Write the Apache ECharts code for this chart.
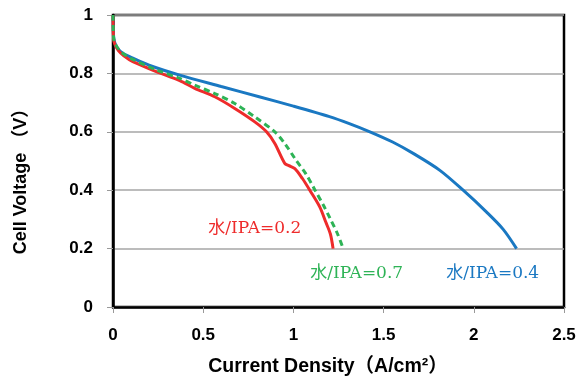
<!DOCTYPE html>
<html><head><meta charset="utf-8">
<script src="https://cdn.jsdelivr.net/npm/echarts@6/dist/echarts.min.js"></script>
<style>html,body{margin:0;padding:0;background:#fff}#c{width:579px;height:381px}</style>
</head><body><div id="c"></div>
<script>
// Data
var xTicks = [0, 0.5, 1, 1.5, 2, 2.5];
var yTicks = [0, 0.2, 0.4, 0.6, 0.8, 1];

var blueX = [0, 0.003, 0.01, 0.03, 0.06, 0.11, 0.2, 0.37, 0.6, 0.81, 1.0, 1.2, 1.31, 1.424, 1.55, 1.664, 1.812, 1.941, 2.071, 2.163, 2.237];
var blueV = [1.0, 0.93, 0.905, 0.882, 0.867, 0.852, 0.828, 0.794, 0.755, 0.72, 0.688, 0.652, 0.628, 0.6, 0.565, 0.526, 0.468, 0.4, 0.325, 0.266, 0.2];

var redX = [0, 0.003, 0.01, 0.03, 0.06, 0.11, 0.24, 0.37, 0.453, 0.564, 0.675, 0.786, 0.851, 0.897, 0.952, 0.975, 1.008, 1.05, 1.091, 1.146, 1.18, 1.205, 1.22];
var redV = [1.0, 0.92, 0.9, 0.878, 0.86, 0.84, 0.806, 0.775, 0.749, 0.72, 0.68, 0.634, 0.6, 0.56, 0.492, 0.484, 0.474, 0.44, 0.4, 0.343, 0.29, 0.25, 0.2];

var greenX = [0, 0.003, 0.01, 0.03, 0.06, 0.11, 0.24, 0.37, 0.453, 0.564, 0.675, 0.786, 0.897, 0.952, 1.01, 1.07, 1.12, 1.165, 1.202, 1.245, 1.276];
var greenV = [1.0, 0.925, 0.905, 0.884, 0.866, 0.848, 0.812, 0.783, 0.76, 0.731, 0.697, 0.651, 0.6, 0.56, 0.507, 0.455, 0.4, 0.35, 0.305, 0.25, 0.2];

var seriesNames = ['水/IPA=0.2', '水/IPA=0.7', '水/IPA=0.4'];
var labelAt = [[0.786, 0.27], [1.351, 0.115], [2.105, 0.115]];

function pairs(xs, ys) { return xs.map(function (x, i) { return [x, ys[i]]; }); }

var tickFont = {fontFamily: '"Liberation Sans", Arial, sans-serif', fontWeight: 'bold', fontSize: 17, color: '#000'};
var labelFont = 'DejaVu Serif, "Noto Sans CJK JP", serif';
var titleFont = '"Liberation Sans", "Noto Sans CJK JP", sans-serif';

function mkSeries(name, xs, ys, color, dashed, lab) {
  return {
    type: 'line', name: name, data: pairs(xs, ys), smooth: 0.3, symbol: 'none',
    lineStyle: {color: color, width: 3, type: dashed ? [6, 4] : 'solid'},
    z: dashed ? 4 : 3,
    markPoint: {
      symbol: 'circle', symbolSize: 0, silent: true,
      data: [{coord: lab, label: {show: true, formatter: name, color: color, fontSize: 17, fontFamily: labelFont, position: 'inside'}}]
    }
  };
}

var chart = echarts.init(document.getElementById('c'));
chart.setOption({
  animation: false,
  grid: {left: 113, right: 15, top: 15, bottom: 74, show: true, borderColor: '#000', borderWidth: 2.5, backgroundColor: 'transparent'},
  xAxis: {
    type: 'value', min: xTicks[0], max: xTicks[xTicks.length - 1], interval: 0.5,
    axisLine: {show: true, lineStyle: {color: '#000', width: 2.5}},
    axisTick: {show: true, length: 6, lineStyle: {color: '#999', width: 1}},
    splitLine: {show: false},
    axisLabel: Object.assign({margin: 20, formatter: function (v) { return String(v); }}, tickFont)
  },
  yAxis: {
    type: 'value', min: yTicks[0], max: yTicks[yTicks.length - 1], interval: 0.2,
    axisLine: {show: true, lineStyle: {color: '#000', width: 2.5}},
    axisTick: {show: true, length: 6, lineStyle: {color: '#999', width: 1}},
    splitLine: {show: true, lineStyle: {color: '#a6a6a6', width: 1.5}},
    axisLabel: Object.assign({margin: 20, formatter: function (v) { return String(Math.round(v * 10) / 10); }}, tickFont)
  },
  graphic: [
    {type: 'text', x: 21, y: 177, rotation: Math.PI / 2, style: {text: 'Cell Voltage （V）', fontFamily: titleFont, fontWeight: 'bold', fontSize: 18, fill: '#000', align: 'center', verticalAlign: 'middle'}},
    {type: 'text', x: 328, y: 367, style: {text: 'Current Density（A/cm²）', fontFamily: titleFont, fontWeight: 'bold', fontSize: 19.5, fill: '#000', align: 'center', verticalAlign: 'middle'}}
  ],
  series: [
    mkSeries(seriesNames[2], blueX, blueV, '#1a78c2', false, labelAt[2]),
    mkSeries(seriesNames[0], redX, redV, '#ee2b2b', false, labelAt[0]),
    mkSeries(seriesNames[1], greenX, greenV, '#2eb356', true, labelAt[1])
  ]
});
</script></body></html>
